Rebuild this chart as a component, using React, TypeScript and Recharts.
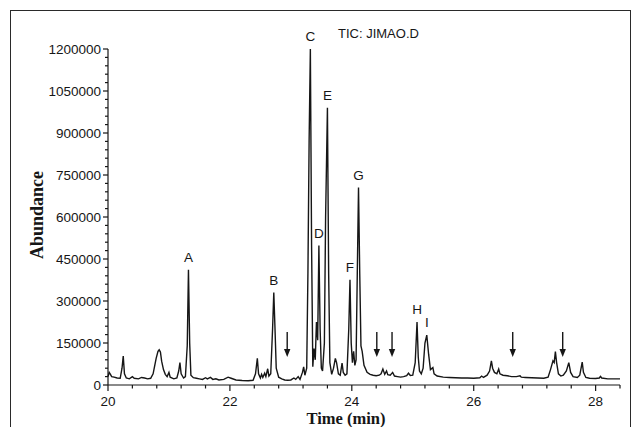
import React from 'react';
import {
  ComposedChart,
  Line,
  XAxis,
  YAxis,
  ReferenceDot,
} from 'recharts';

// retention time (min) and abundance
const times = [
  20.0, 20.02, 20.04, 20.06, 20.1, 20.15, 20.2, 20.23, 20.25, 20.27, 20.3, 20.35, 20.4, 20.43,
  20.5, 20.55, 20.6, 20.65, 20.7, 20.74, 20.76, 20.79, 20.82, 20.84, 20.86, 20.88, 20.91, 20.94,
  20.97, 21.0, 21.02, 21.08, 21.13, 21.16, 21.18, 21.2, 21.24, 21.27, 21.3, 21.32, 21.34, 21.36,
  21.4, 21.45, 21.5, 21.55, 21.6, 21.63, 21.68, 21.72, 21.77, 21.82, 21.9, 21.97, 22.02, 22.1,
  22.2, 22.3, 22.38, 22.42, 22.45, 22.47, 22.5, 22.52, 22.54, 22.57, 22.59, 22.62, 22.64, 22.67,
  22.7, 22.72, 22.74, 22.76, 22.8, 22.85, 22.9, 22.95, 23.0, 23.05, 23.08, 23.12, 23.15, 23.19,
  23.21, 23.23, 23.26, 23.28, 23.3, 23.32, 23.34, 23.36, 23.38, 23.4, 23.42, 23.44, 23.46, 23.48,
  23.5, 23.52, 23.55, 23.57, 23.6, 23.62, 23.64, 23.67, 23.7, 23.73, 23.75, 23.78, 23.81, 23.84,
  23.86, 23.89, 23.92, 23.95, 23.97, 23.99, 24.01, 24.03, 24.05, 24.07, 24.09, 24.11, 24.13, 24.15,
  24.17, 24.2, 24.25, 24.3, 24.35, 24.4, 24.45, 24.48, 24.51, 24.54, 24.57, 24.59, 24.63, 24.67,
  24.7, 24.75, 24.8, 24.85, 24.9, 24.93, 24.96, 25.0, 25.04, 25.07, 25.09, 25.11, 25.14, 25.17,
  25.2, 25.23, 25.26, 25.29, 25.33, 25.35, 25.4, 25.5, 25.6, 25.7, 25.8, 25.9, 26.0, 26.1,
  26.13, 26.16, 26.22, 26.26, 26.29, 26.31, 26.34, 26.38, 26.41, 26.43, 26.48, 26.55, 26.62, 26.7,
  26.76, 26.78, 26.85, 26.95, 27.05, 27.15, 27.22, 27.26, 27.3, 27.32, 27.34, 27.36, 27.39, 27.43,
  27.47, 27.52, 27.56, 27.59, 27.63, 27.7, 27.74, 27.78, 27.8, 27.84, 27.9, 28.0, 28.06, 28.08,
  28.1, 28.2, 28.3, 28.4,
];

const abundance = [
  30000, 45000, 38000, 30000, 28000, 25000, 24000, 60000, 103000, 40000, 25000, 22000, 30000, 24000,
  22000, 27000, 25000, 22000, 24000, 40000, 62000, 95000, 120000, 126000, 118000, 85000, 55000, 38000,
  30000, 45000, 28000, 22000, 25000, 50000, 80000, 40000, 25000, 30000, 140000, 412000, 150000, 35000,
  26000, 24000, 22000, 20000, 26000, 22000, 27000, 20000, 22000, 18000, 20000, 28000, 24000, 18000,
  16000, 15000, 17000, 40000, 95000, 40000, 25000, 38000, 27000, 42000, 30000, 58000, 32000, 40000,
  200000, 330000, 200000, 60000, 28000, 22000, 18000, 17000, 18000, 25000, 20000, 30000, 20000, 45000,
  65000, 35000, 60000, 400000, 880000, 1200000, 500000, 65000, 130000, 90000, 225000, 160000, 498000, 200000,
  60000, 50000, 150000, 600000, 990000, 400000, 80000, 38000, 60000, 95000, 80000, 40000, 35000, 78000,
  45000, 35000, 40000, 200000, 376000, 150000, 80000, 120000, 70000, 90000, 400000, 705000, 400000, 140000,
  120000, 70000, 45000, 38000, 35000, 33000, 35000, 40000, 57000, 38000, 50000, 37000, 35000, 45000,
  32000, 30000, 28000, 30000, 33000, 42000, 34000, 35000, 80000, 225000, 100000, 50000, 40000, 60000,
  150000, 178000, 110000, 55000, 62000, 40000, 32000, 28000, 27000, 26000, 25000, 25000, 24000, 26000,
  32000, 27000, 35000, 50000, 86000, 60000, 45000, 40000, 57000, 40000, 35000, 33000, 30000, 30000,
  33000, 28000, 27000, 26000, 25000, 24000, 28000, 55000, 86000, 80000, 119000, 80000, 40000, 32000,
  35000, 50000, 80000, 45000, 30000, 27000, 35000, 82000, 45000, 27000, 24000, 23000, 25000, 31000,
  25000, 22000, 22000, 22000,
];

// labelled peaks
const peakNames = ['A', 'B', 'C', 'D', 'E', 'F', 'G', 'H', 'I'];
const peakTimes = [21.32, 22.72, 23.32, 23.46, 23.6, 23.97, 24.11, 25.07, 25.23];
const peakHeights = [412000, 330000, 1200000, 498000, 990000, 376000, 705000, 225000, 178000];

// arrows marking minor components
const arrowTimes = [22.94, 24.41, 24.66, 26.64, 27.46];
const arrowTip = 100000;

const xMajor = [20, 22, 24, 26, 28];
const yMajor = [0, 150000, 300000, 450000, 600000, 750000, 900000, 1050000, 1200000];

const xTicks = Array.from({ length: 22 }, (_, i) => Math.round((20 + i * 0.4) * 10) / 10);
const yTicks = Array.from({ length: 41 }, (_, i) => i * 30000);

const trace = times.map((t, i) => ({ t, v: abundance[i] }));

const sans = "'Liberation Sans', Arial, sans-serif";
const serif = "'Liberation Serif', 'Times New Roman', serif";
const ink = '#161616';

function XTick(props: any) {
  const { x, y, payload } = props;
  const major = xMajor.includes(payload.value);
  return (
    <g>
      <line x1={x} x2={x} y1={y} y2={y + (major ? 6 : 3.5)} stroke={ink} strokeWidth={1.2} />
      {major && (
        <text x={x} y={y + 21} textAnchor="middle" fontFamily={sans} fontSize={13.5} fill={ink}>
          {payload.value}
        </text>
      )}
    </g>
  );
}

function YTick(props: any) {
  const { x, y, payload } = props;
  const major = yMajor.includes(payload.value);
  return (
    <g>
      <line x1={x} x2={x - (major ? 5 : 3)} y1={y} y2={y} stroke={ink} strokeWidth={1.2} />
      {major && (
        <text x={x - 7} y={y} dy="0.36em" textAnchor="end" fontFamily={sans} fontSize={13.5} fill={ink}>
          {payload.value}
        </text>
      )}
    </g>
  );
}

export default function App() {
  return (
    <div
      style={{
        position: 'absolute',
        left: 0,
        top: 0,
        width: 641,
        height: 427,
        background: '#fff',
        overflow: 'hidden',
      }}
    >
      <div
        style={{
          position: 'absolute',
          left: 10,
          top: 10,
          width: 619,
          height: 440,
          border: '1.5px solid #2a2a2a',
          pointerEvents: 'none',
        }}
      />
      <ComposedChart
        width={641}
        height={427}
        data={trace}
        margin={{ top: 49, right: 21, bottom: 0, left: 0 }}
      >
        <XAxis
          dataKey="t"
          type="number"
          domain={[20, 28.4]}
          ticks={xTicks}
          interval={0}
          tickSize={0}
          tickMargin={0}
          tickLine={false}
          tick={<XTick />}
          axisLine={{ stroke: ink, strokeWidth: 1.2 }}
          height={42}
          label={(p: any) => {
            const vb = p.viewBox;
            return (
              <text
                x={vb.x + 238}
                y={vb.y + 38.5}
                textAnchor="middle"
                fontFamily={serif}
                fontWeight="bold"
                fontSize={16.5}
                fill={ink}
              >
                Time (min)
              </text>
            );
          }}
        />
        <YAxis
          type="number"
          domain={[0, 1200000]}
          ticks={yTicks}
          interval={0}
          tickSize={0}
          tickMargin={0}
          tickLine={false}
          tick={<YTick />}
          axisLine={{ stroke: ink, strokeWidth: 1.2 }}
          width={108}
          label={(p: any) => {
            const vb = p.viewBox;
            const cx = vb.x + 37;
            const cy = vb.y + vb.height / 2 - 2;
            return (
              <text
                x={cx}
                y={cy}
                transform={`rotate(-90 ${cx} ${cy})`}
                textAnchor="middle"
                dominantBaseline="central"
                fontFamily={serif}
                fontWeight="bold"
                fontSize={18}
                fill={ink}
              >
                Abundance
              </text>
            );
          }}
        />
        <Line
          type="linear"
          dataKey="v"
          stroke={ink}
          strokeWidth={1.4}
          dot={false}
          isAnimationActive={false}
        />
        {peakNames.map((name, i) => (
          <ReferenceDot
            key={name}
            x={peakTimes[i]}
            y={peakHeights[i]}
            r={0}
            shape={(p: any) => (
              <text
                x={p.cx}
                y={p.cy - 8}
                textAnchor="middle"
                fontFamily={sans}
                fontSize={13.5}
                fill={ink}
              >
                {name}
              </text>
            )}
          />
        ))}
        {arrowTimes.map((t) => (
          <ReferenceDot
            key={t}
            x={t}
            y={arrowTip}
            r={0}
            shape={(p: any) => (
              <g>
                <line x1={p.cx} x2={p.cx} y1={p.cy - 25} y2={p.cy - 6} stroke={ink} strokeWidth={1.4} />
                <polygon
                  points={`${p.cx - 3.2},${p.cy - 8} ${p.cx + 3.2},${p.cy - 8} ${p.cx},${p.cy}`}
                  fill={ink}
                />
              </g>
            )}
          />
        ))}
        <text x={338} y={38} fontFamily={sans} fontSize={13} fill={ink}>
          TIC: JIMAO.D
        </text>
      </ComposedChart>
    </div>
  );
}
